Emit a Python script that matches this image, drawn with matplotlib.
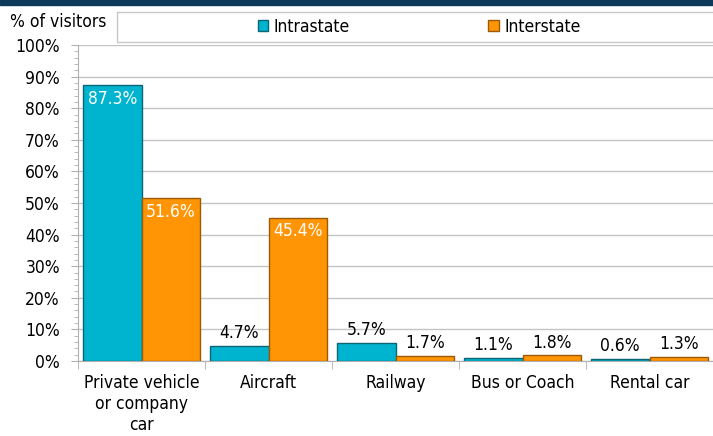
import matplotlib
matplotlib.use('Agg')
import matplotlib.pyplot as plt
from matplotlib.patches import Rectangle
from matplotlib.ticker import MultipleLocator, FuncFormatter
import numpy as np

categories = ['Private vehicle\nor company\ncar', 'Aircraft', 'Railway', 'Bus or Coach', 'Rental car']
intrastate = [87.3, 4.7, 5.7, 1.1, 0.6]
interstate = [51.6, 45.4, 1.7, 1.8, 1.3]

plt.rcParams['font.family'] = ['DejaVu Sans']
plt.rcParams['font.stretch'] = 'condensed'

fig = plt.figure(figsize=(7.13, 4.36), dpi=100)
ax = fig.add_axes([78/713, 1-361/436, 1-78/713, (361-45)/436])

x = np.arange(len(categories))
w = 0.46
cyan = '#00b4cf'
orange = '#ff9505'
b1 = ax.bar(x - w/2, intrastate, w, color=cyan, edgecolor='#0b6575', linewidth=1, label='Intrastate', zorder=3)
b2 = ax.bar(x + w/2, interstate, w, color=orange, edgecolor='#9a5a08', linewidth=1, label='Interstate', zorder=3)

for bars, vals in ((b1, intrastate), (b2, interstate)):
    for b, v in zip(bars, vals):
        cx = b.get_x() + b.get_width()/2
        if v > 20:
            ax.text(cx, v - 1.5, f'{v:.1f}%', ha='center', va='top', color='white', fontsize=12.5, zorder=4)
        else:
            ax.text(cx, v + 1.2, f'{v:.1f}%', ha='center', va='bottom', color='black', fontsize=12.5, zorder=4)

ax.set_xlim(-0.5, len(categories) - 0.5)
ax.set_ylim(0, 100)
ax.yaxis.set_major_locator(MultipleLocator(10))
ax.yaxis.set_minor_locator(MultipleLocator(2))
ax.yaxis.set_major_formatter(FuncFormatter(lambda v, p: f'{v:.0f}%'))
ax.grid(axis='y', color='#c4c4c4', linewidth=1, zorder=0)
ax.set_axisbelow(True)

ax.set_xticks(x)
ax.set_xticklabels(categories, fontsize=12.5, linespacing=1.22)
ax.tick_params(axis='x', length=0, pad=9)
ax.set_xticks(np.arange(-0.5, len(categories)), minor=True)
ax.tick_params(axis='x', which='minor', length=6, color='#b0b0b0')
ax.tick_params(axis='y', which='major', length=5, color='#b0b0b0', labelsize=12.5, pad=8)
ax.tick_params(axis='y', which='minor', length=3, color='#b0b0b0')

for s in ('top', 'right'):
    ax.spines[s].set_visible(False)
ax.spines['left'].set_color('#b0b0b0')
ax.spines['bottom'].set_color('#b0b0b0')

# dark band at top
fig.patches.append(Rectangle((0, 1-5/436), 1, 5/436, transform=fig.transFigure, color='#0d3a5a', zorder=0))
# legend box
fig.patches.append(Rectangle((117/713, 1-42/436), 1-117/713 + 0.01, 30/436, transform=fig.transFigure,
                             facecolor='white', edgecolor='#c8c8c8', linewidth=1, zorder=1))
fig.legend(handles=[b1, b2], loc='center', bbox_to_anchor=(419/713, 1-27/436), ncol=2, frameon=False,
           fontsize=12.5, columnspacing=8, handlelength=0.6, handleheight=0.6, handletextpad=0.3)
fig.text(10/713, 1-22/436, '% of visitors', fontsize=12.5, va='center', ha='left')

fig.savefig('out.png', dpi=100)
